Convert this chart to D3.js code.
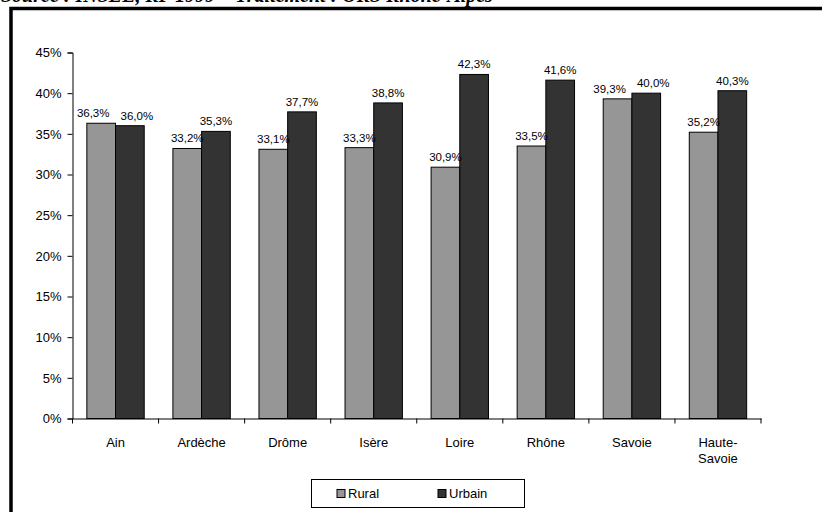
<!DOCTYPE html>
<meta charset="utf-8">
<script src="https://d3js.org/d3.v7.min.js"></script>
<body>
<div id="chart"></div>
<style>
 body { margin: 0; background: #fff; }
 text { font-family: Arial, "Liberation Sans", sans-serif; }
</style>
<script>

// data
var departements = ["Ain", "Ardèche", "Drôme", "Isère", "Loire", "Rhône", "Savoie", "Haute-Savoie"];
var rural  = [36.3, 33.2, 33.1, 33.3, 30.9, 33.5, 39.3, 35.2];
var urbain = [36.0, 35.3, 37.7, 38.8, 42.3, 41.6, 40.0, 40.3];
var yTicks = [0, 5, 10, 15, 20, 25, 30, 35, 40, 45];
var series = ["Rural", "Urbain"];
var colors = ["#969696", "#333333"];

var W = 822, H = 512;
var svg = d3.select("#chart").append("svg")
    .attr("width", W).attr("height", H);

// source line, clipped at the top like the original
svg.append("text")
    .attr("x", 1).attr("y", 2)
    .text("Source : INSEE, RP 1999 – Traitement : ORS Rhône-Alpes")
    .style("font-family", "'Liberation Serif', 'Times New Roman', serif")
    .style("font-style", "italic").style("font-weight", "bold")
    .style("font-size", "20px");

// frame (left + top edges only)
svg.append("path")
    .attr("d", "M11,512 V8.5 H822")
    .attr("fill", "none").attr("stroke", "#000").attr("stroke-width", 3.5);

var x = d3.scaleBand().domain(departements).range([72.5, 761]);
var x1 = d3.scaleBand().domain(series).range([0, x.bandwidth()]).paddingOuter(0.5);
var y = d3.scaleLinear().domain([0, 45]).range([418.5, 52.5]);

// y axis
var yAxis = svg.append("g")
    .attr("transform", "translate(72.5,0)")
    .call(d3.axisLeft(y).tickValues(yTicks).tickSize(5).tickPadding(6)
        .tickFormat(function(d) { return d + "%"; }));
yAxis.selectAll("text").style("font-size", "13px").attr("fill", "#000");
yAxis.selectAll("line, path").attr("stroke", "#000");

// bars
var data = departements.map(function(d, i) { return {dep: d, vals: [rural[i], urbain[i]]}; });
var groups = svg.append("g").selectAll("g").data(data).enter().append("g")
    .attr("transform", function(d) { return "translate(" + x(d.dep) + ",0)"; });

groups.selectAll("rect").data(function(d) { return d.vals; }).enter().append("rect")
    .attr("x", function(v, j) { return x1(series[j]); })
    .attr("y", function(v) { return y(v); })
    .attr("width", x1.bandwidth())
    .attr("height", function(v) { return y(0) - y(v); })
    .attr("fill", function(v, j) { return colors[j]; })
    .attr("stroke", "#000").attr("stroke-width", 1);

// value labels; push the pair apart when they sit at nearly the same height
groups.each(function(d) {
    var g = d3.select(this);
    var close = Math.abs(y(d.vals[0]) - y(d.vals[1])) < 13;
    d.vals.forEach(function(v, j) {
        var cx = x1(series[j]) + x1.bandwidth() / 2;
        if (close) cx += j ? 7 : -8;
        g.append("text")
            .attr("x", cx)
            .attr("y", y(v) - 6)
            .attr("text-anchor", "middle")
            .style("font-size", "11.5px")
            .text(v.toFixed(1).replace(".", ",") + "%");
    });
});

// x axis
var xAxis = svg.append("g")
    .attr("transform", "translate(0,418.5)")
    .call(d3.axisBottom(x).tickSize(0).tickFormat(""));
xAxis.select("path").attr("stroke", "#000");
// tick marks between categories
var bounds = departements.map(function(d) { return x(d); }).concat([x.range()[1]]);
svg.append("g").selectAll("line").data(bounds).enter().append("line")
    .attr("x1", function(d) { return d; }).attr("x2", function(d) { return d; })
    .attr("y1", 418.5).attr("y2", 423.5)
    .attr("stroke", "#000");

// category labels
var labels = svg.append("g").selectAll("text").data(departements).enter().append("text")
    .attr("x", function(d) { return x(d) + x.bandwidth() / 2; })
    .attr("y", 447)
    .attr("text-anchor", "middle")
    .style("font-size", "13px");
labels.each(function(d) {
    var parts = d === "Haute-Savoie" ? ["Haute-", "Savoie"] : [d];
    var t = d3.select(this);
    parts.forEach(function(p, k) {
        t.append("tspan").attr("x", t.attr("x")).attr("dy", k ? 16 : 0).text(p);
    });
});

// legend
var lg = svg.append("g");
lg.append("rect").attr("x", 311.5).attr("y", 479.5).attr("width", 213).attr("height", 28)
    .attr("fill", "#fff").attr("stroke", "#000");
series.forEach(function(s, i) {
    var lx = [337, 438][i];
    lg.append("rect").attr("x", lx).attr("y", 489.5).attr("width", 8).attr("height", 8)
        .attr("fill", colors[i]).attr("stroke", "#000");
    lg.append("text").attr("x", lx + 11).attr("y", 498).style("font-size", "13px").text(s);
});

</script>
</body>
